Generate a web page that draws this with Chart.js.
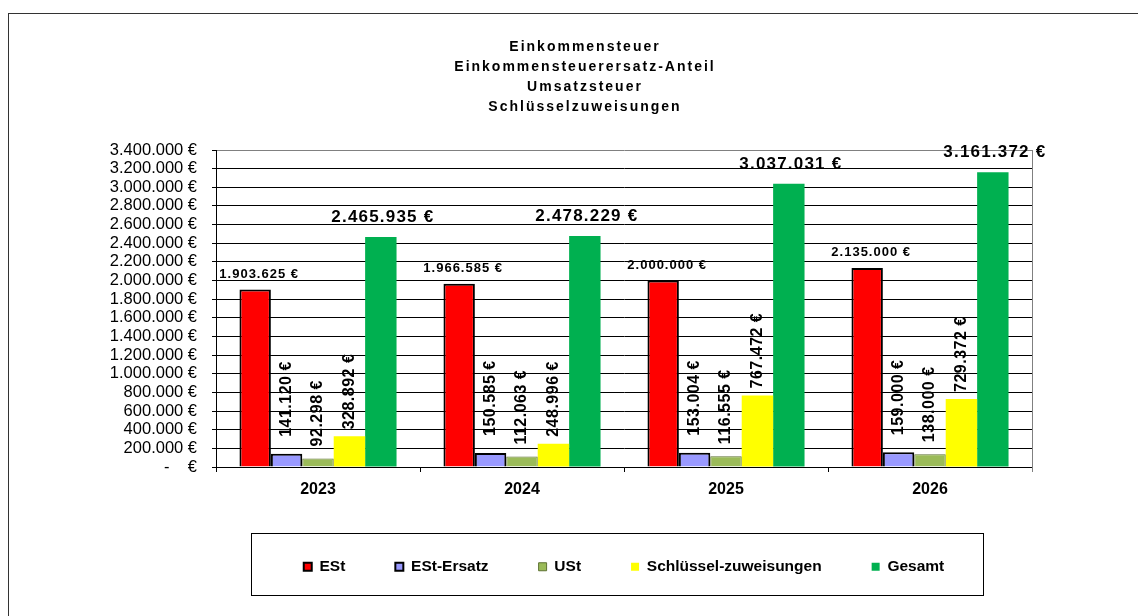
<!DOCTYPE html>
<html>
<head>
<meta charset="utf-8">
<script src="https://cdn.jsdelivr.net/npm/chart.js@4.4.1/dist/chart.umd.min.js"></script>
<style>
  html, body { margin: 0; padding: 0; background: #fff; overflow: hidden; }
  #frame { position: absolute; left: 8px; top: 13px; width: 1300px; height: 800px;
           border-left: 1px solid #333; border-top: 1px solid #333; }
  #chart { position: absolute; left: 0; top: 0; }
</style>
</head>
<body>
<div id="frame"></div>
<canvas id="chart" width="1138" height="616"></canvas>
<script>
const years = ['2023', '2024', '2025', '2026'];
const seriesNames = ['ESt', 'ESt-Ersatz', 'USt', 'Schlüssel-zuweisungen', 'Gesamt'];
const est = [1903625, 1966585, 2000000, 2135000];
const estErsatz = [141120, 150585, 153004, 159000];
const ust = [92298, 112063, 116555, 138000];
const schluessel = [328892, 248996, 767472, 729372];
const gesamt = [2465935, 2478229, 3037031, 3161372];
const titleLines = ['Einkommensteuer', 'Einkommensteuerersatz-Anteil', 'Umsatzsteuer', 'Schlüsselzuweisungen'];
const yMax = 3400000;
const yStep = 200000;

const FONT = "'Liberation Sans', Arial, sans-serif";
Chart.defaults.font.family = FONT;
Chart.defaults.color = '#000';

function euro(v) {
    if (v === 0) return '-    €';
    return String(v).replace(/\B(?=(\d{3})+(?!\d))/g, '.') + ' €';
}

// label style per series: horizontal small, vertical, horizontal big
const labelStyle = [
    { kind: 'h', size: 13, spacing: 1, dy: 9, dx: 4 },
    { kind: 'v', size: 16, spacing: 0.5, dy: 17 },
    { kind: 'v', size: 16, spacing: 0.5, dy: 12 },
    { kind: 'v', size: 16, spacing: 0.5, dy: 7 },
    { kind: 'h', size: 17, spacing: 1.2, dy: 11, dx: 2 }
];

// legend is fitted full width, then centred under the plot area
const legendUnderPlot = {
    id: 'legendUnderPlot',
    afterLayout(chart) {
        const lg = chart.legend;
        const a = chart.chartArea;
        lg.left = a.left;
        lg.right = a.right;
        lg.width = a.right - a.left;
    }
};

const valueLabels = {
    id: 'valueLabels',
    afterDatasetsDraw(chart) {
        const ctx = chart.ctx;
        chart.data.datasets.forEach((ds, i) => {
            const st = labelStyle[i];
            chart.getDatasetMeta(i).data.forEach((bar, j) => {
                const p = bar.getProps(['x', 'y'], true);
                const txt = euro(ds.data[j]);
                ctx.save();
                ctx.letterSpacing = st.spacing + 'px';
                ctx.font = 'bold ' + st.size + 'px ' + FONT;
                ctx.fillStyle = '#000';
                if (st.kind === 'h') {
                    ctx.textAlign = 'center';
                    ctx.textBaseline = 'bottom';
                    ctx.fillText(txt, p.x + st.dx, p.y - st.dy);
                } else {
                    ctx.translate(p.x, p.y - st.dy);
                    ctx.rotate(-Math.PI / 2);
                    ctx.textAlign = 'left';
                    ctx.textBaseline = 'middle';
                    ctx.fillText(txt, 0, 0);
                }
                ctx.letterSpacing = '0px';
                ctx.restore();
            });
        });
    }
};

const decorations = {
    id: 'decorations',
    afterDraw(chart) {
        const ctx = chart.ctx;
        const a = chart.chartArea;
        ctx.save();
        // right edge of the plot area
        ctx.strokeStyle = '#808080';
        ctx.lineWidth = 1;
        ctx.beginPath();
        ctx.moveTo(Math.round(a.right) + 0.5, a.top);
        ctx.lineTo(Math.round(a.right) + 0.5, a.bottom + 5);
        ctx.stroke();

        // title
        ctx.letterSpacing = '2px';
        ctx.font = 'bold 14px ' + FONT;
        ctx.fillStyle = '#000';
        ctx.textAlign = 'center';
        ctx.textBaseline = 'middle';
        titleLines.forEach((t, k) => ctx.fillText(t, 585, 47 + k * 20));
        ctx.letterSpacing = '0px';

        // legend frame
        const hb = chart.legend.legendHitBoxes;
        if (hb && hb.length) {
            const first = hb[0], last = hb[hb.length - 1];
            const cy = first.top + first.height / 2;
            const x0 = Math.round(first.left - 53);
            const x1 = Math.round(last.left + last.width + 39);
            ctx.strokeStyle = '#000';
            ctx.lineWidth = 1;
            ctx.strokeRect(x0 + 0.5, Math.round(cy - 34) + 0.5, x1 - x0, 62);
        }
        ctx.restore();
    }
};

const colors = ['#FF0000', '#9999FF', '#9BBB59', '#FFFF00', '#00B050'];
const borders = ['#000', '#000', '#5E7233', '#FFFF00', '#00B050'];
const borderWidths = [2, 2, 1, 0, 0];
const seriesData = [est, estErsatz, ust, schluessel, gesamt];

new Chart(document.getElementById('chart'), {
    type: 'bar',
    data: {
        labels: years,
        datasets: seriesNames.map((name, i) => ({
            label: name,
            data: seriesData[i],
            backgroundColor: colors[i],
            borderColor: borders[i],
            borderWidth: borderWidths[i],
            borderSkipped: 'bottom',
            categoryPercentage: 0.77,
            barPercentage: 1.0
        }))
    },
    options: {
        responsive: false,
        animation: false,
        devicePixelRatio: 1,
        layout: { padding: { left: 0, right: 106, top: 150, bottom: 31.5 } },
        plugins: {
            title: { display: false },
            tooltip: { enabled: false },
            legend: {
                position: 'bottom',
                fullSize: true,
                labels: {
                    boxWidth: 8,
                    boxHeight: 8,
                    padding: 50,
                    color: '#000',
                    font: { size: 15.5, weight: 'bold' }
                }
            }
        },
        scales: {
            x: {
                grid: { drawOnChartArea: false, drawTicks: true, tickLength: 5, color: '#000', offset: true },
                border: { display: true, color: '#000', width: 1 },
                ticks: { padding: 8, color: '#000', font: { size: 16, weight: 'bold' } },
                afterFit(scale) { scale.height = 42; }
            },
            y: {
                min: 0,
                max: yMax,
                grid: {
                    color: ctx => (ctx.tick && ctx.tick.value === yMax) ? '#808080' : '#000',
                    tickColor: '#000',
                    tickLength: 4,
                    lineWidth: 1
                },
                border: { display: true, color: '#000', width: 1 },
                ticks: {
                    stepSize: yStep,
                    autoSkip: false,
                    padding: 15,
                    color: '#000',
                    font: { size: 16.5 },
                    callback: v => euro(v)
                },
                afterFit(scale) { scale.width = 216; }
            }
        }
    },
    plugins: [legendUnderPlot, valueLabels, decorations]
});
</script>
</body>
</html>
